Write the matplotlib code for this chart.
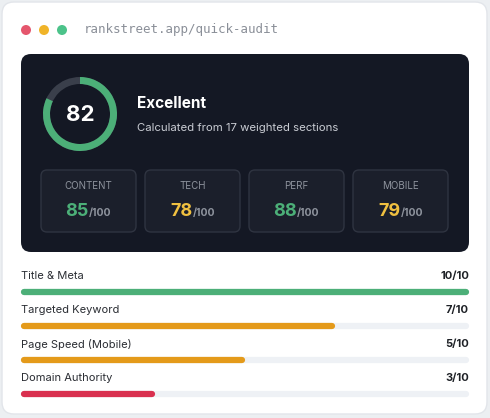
import matplotlib
matplotlib.use("Agg")
import matplotlib.pyplot as plt
from matplotlib.patches import FancyBboxPatch, Wedge, Circle

overall_score = 82
status = "Excellent"
subtitle = "Calculated from 17 weighted sections"
url = "rankstreet.app/quick-audit"
cat_names = ["CONTENT", "TECH", "PERF", "MOBILE"]
cat_scores = [85, 78, 88, 79]
check_names = ["Title & Meta", "Targeted Keyword", "Page Speed (Mobile)", "Domain Authority"]
check_scores = [10, 7, 5, 3]
check_max = 10

GREEN = "#4caf78"; YEL = "#f0c040"; ORANGE = "#e49a1a"; RED = "#d9304f"
plt.rcParams['font.family'] = ['Inter', 'DejaVu Sans']

fig = plt.figure(figsize=(4.9, 4.18), dpi=100, facecolor="#eceff2")
ax = fig.add_axes([0, 0, 1, 1])
ax.set_xlim(0, 490); ax.set_ylim(418, 0); ax.axis("off")

def rbox(x0, y0, x1, y1, r, fc, ec="none", lw=0, z=1):
    ax.add_patch(FancyBboxPatch((x0 + r, y0 + r), x1 - x0 - 2 * r, y1 - y0 - 2 * r,
                                boxstyle=f"round,pad={r}", fc=fc, ec=ec, lw=lw, zorder=z))

rbox(2, 2, 487, 414, 12, "white", "#e2e5ea", 1, 0)
for x, c in zip([26, 44, 62], ["#e5566d", "#f0b429", "#4cc38a"]):
    ax.add_patch(Circle((x, 30), 5, fc=c, ec="none", zorder=2))
ax.text(84, 30, url, family="DejaVu Sans Mono", fontsize=9, color="#8a8f98", va="center")

rbox(21, 54, 469, 252, 10, "#141824", z=1)
cx, cy, R = 80, 114, 37
ax.add_patch(Wedge((cx, cy), R, 0, 360, width=7, fc="#3a3f4b", ec="none", zorder=2))
ax.add_patch(Wedge((cx, cy), R, 270, 270 + 360 * overall_score / 100, width=7, fc=GREEN, ec="none", zorder=3))
ax.text(cx, cy + 1, str(overall_score), color="white", fontsize=16, fontweight="bold", ha="center", va="center")
ax.text(137, 104, status, color="white", fontsize=11, fontweight="bold", va="center")
ax.text(137, 128, subtitle, color="#c9ccd3", fontsize=8.2, va="center")

for i, (n, s) in enumerate(zip(cat_names, cat_scores)):
    x0 = 41 + i * 104
    rbox(x0, 170, x0 + 95, 232, 6, "#1b1f2b", "#2f3441", 1, 2)
    ax.text(x0 + 47.5, 186, n, color="#8e939d", fontsize=7, ha="center", va="center")
    col = GREEN if s >= 80 else YEL
    t1 = ax.text(x0 + 47.5, 211, str(s), color=col, fontsize=13, fontweight="bold", ha="right", va="center")
    ax.text(x0 + 47.5, 213, "/100", color="#8e939d", fontsize=7.5, fontweight="bold", ha="left", va="center")

for i, (n, s) in enumerate(zip(check_names, check_scores)):
    ty = 276 + i * 34; by = 292 + i * 34
    ax.text(21, ty, n, color="#2a2d33", fontsize=8, va="center")
    ax.text(469, ty, f"{s}/{check_max}", color="#1e2126", fontsize=8, fontweight="bold", ha="right", va="center")
    col = GREEN if s >= 9 else (ORANGE if s >= 5 else RED)
    ax.plot([24, 466], [by, by], color="#eef1f5", lw=4.5, solid_capstyle="round", zorder=2)
    ax.plot([24, 21 + 448 * s / check_max - 3], [by, by], color=col, lw=4.5, solid_capstyle="round", zorder=3)

fig.savefig("out.png", dpi=100, facecolor=fig.get_facecolor())
